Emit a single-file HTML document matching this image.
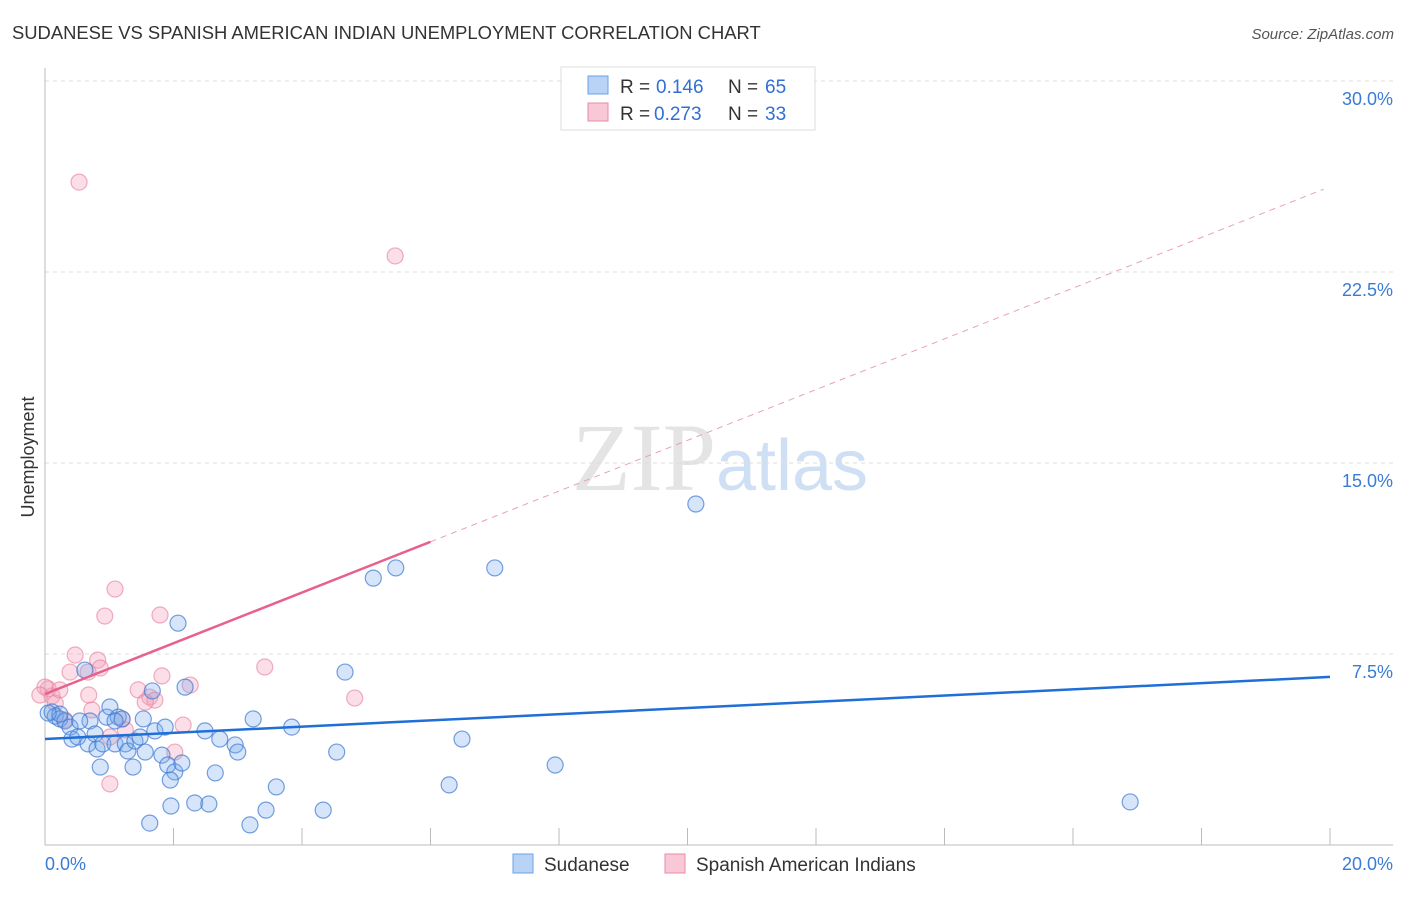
<!DOCTYPE html>
<html><head><meta charset="utf-8"><style>
body{margin:0;background:#fff;font-family:"Liberation Sans",sans-serif}
</style></head><body>
<svg id="chart" width="1406" height="892" xmlns="http://www.w3.org/2000/svg" font-family="Liberation Sans, sans-serif">
<text x="12" y="39" font-size="18.4" fill="#333">SUDANESE VS SPANISH AMERICAN INDIAN UNEMPLOYMENT CORRELATION CHART</text>
<text x="1394" y="39" font-size="15" fill="#555" text-anchor="end" font-style="italic">Source: ZipAtlas.com</text>
<text x="720" y="490" font-size="96" text-anchor="middle" fill="#e4e4e4" font-family="Liberation Serif, serif">ZIP<tspan fill="#cfe0f4" font-family="Liberation Sans, sans-serif" font-size="72">atlas</tspan></text>
<g id="grid"></g>
<g id="axes"></g>
<text transform="translate(34,457) rotate(-90)" font-size="18" fill="#333" text-anchor="middle">Unemployment</text>
<g id="points"></g>
<g id="lines"></g>
<g>
<rect x="561" y="67" width="254" height="63" fill="#fff" stroke="#ddd"/>
<rect x="588" y="76" width="20" height="18" fill="#b8d3f5" stroke="#6aa0e8"/>
<text x="620" y="93" font-size="19" fill="#333">R =</text><text x="656" y="93" font-size="19" fill="#2f6fd6">0.146</text>
<text x="728" y="93" font-size="19" fill="#333">N =</text><text x="765" y="93" font-size="19" fill="#2f6fd6">65</text>
<rect x="588" y="103" width="20" height="18" fill="#f8c8d6" stroke="#e88aa6"/>
<text x="620" y="120" font-size="19" fill="#333">R =</text><text x="654" y="120" font-size="19" fill="#2f6fd6">0.273</text>
<text x="728" y="120" font-size="19" fill="#333">N =</text><text x="765" y="120" font-size="19" fill="#2f6fd6">33</text>
</g>
<g>
<rect x="513" y="854" width="20" height="19" fill="#b8d3f5" stroke="#6aa0e8"/>
<text x="544" y="871" font-size="19" fill="#333">Sudanese</text>
<rect x="665" y="854" width="20" height="19" fill="#f8c8d6" stroke="#e88aa6"/>
<text x="696" y="871" font-size="19" fill="#333">Spanish American Indians</text>
</g>
</svg>
<script>
const yTicks=[7.5,15,22.5,30];
const yTickLabels=["7.5%","15.0%","22.5%","30.0%"];
const xTickLabels=["0.0%","20.0%"];
const blueX=[0.11,0.16,0.23,0.31,0.39,0.42,0.51,0.62,0.67,0.70,0.78,0.81,0.86,0.90,0.96,1.01,1.09,1.14,1.20,1.25,1.29,1.37,1.40,1.48,1.53,1.63,1.67,1.71,1.82,1.87,1.91,1.96,2.02,2.07,2.13,2.18,2.33,2.49,2.55,2.65,2.72,2.96,3.00,3.19,3.24,3.44,3.60,3.84,4.33,4.54,4.67,5.11,5.46,6.29,6.49,7.00,7.94,10.13,16.89,0.23,0.05,1.09,1.95,1.56,0.54];
const blueY=[5.22,5.06,4.95,4.87,4.63,4.16,4.24,6.87,3.97,4.87,4.36,3.77,3.06,3.97,5.02,5.42,3.97,5.02,4.95,3.97,3.69,3.06,4.08,4.24,4.95,0.86,6.05,4.48,3.53,4.63,3.14,1.53,2.87,8.71,3.22,6.20,1.65,4.48,1.61,2.83,4.16,3.93,3.65,0.79,4.95,1.37,2.28,4.63,1.37,3.65,6.79,10.48,10.88,2.36,4.16,10.88,3.14,13.39,1.69,5.14,5.18,4.87,2.55,3.65,4.87];
const pinkX=[0.53,5.45,1.09,0.93,1.79,0.47,0.82,0.86,0.67,3.42,1.82,2.26,1.45,1.63,1.71,0.68,0.73,1.56,4.82,2.15,1.25,1.01,2.02,1.01,0.05,0.11,0.16,0.0,0.31,1.20,0.23,0.39,-0.08];
const pinkY=[26.03,23.13,10.05,8.99,9.03,7.46,7.26,6.95,6.79,6.99,6.64,6.28,6.09,5.81,5.69,5.89,5.30,5.61,5.77,4.71,4.52,4.24,3.65,2.40,6.13,5.85,5.57,6.20,4.91,4.95,6.09,6.79,5.89];
const blueTrend=[4.16,6.60];
const pinkTrend=[5.93,25.85];
const NS="http://www.w3.org/2000/svg";
const X0=45,X1=1330,Y0=845,YS=191/7.5;
function sx(v){return X0+v/20*(X1-X0);}
function sy(v){return Y0-v*YS;}
function mk(t,a,p){const e=document.createElementNS(NS,t);for(const k in a)e.setAttribute(k,a[k]);p.appendChild(e);return e;}
const grid=document.getElementById('grid'),axes=document.getElementById('axes'),pts=document.getElementById('points'),lines=document.getElementById('lines');
yTicks.forEach((v,i)=>{
 const l=mk('line',{x1:45,x2:1393,y1:sy(v),y2:sy(v),stroke:'#ddd','stroke-dasharray':'4,4'},grid);
 
 
 const t=mk('text',{x:1393,y:sy(v)+24,'font-size':18,fill:'#3a7bd5','text-anchor':'end'},axes);
 t.textContent=yTickLabels[i];
 
 
});
const ya=mk('line',{x1:45,x2:45,y1:68,y2:845,stroke:'#bbb'},axes);


const xa=mk('line',{x1:45,x2:1393,y1:845,y2:845,stroke:'#bbb'},axes);


for(let i=1;i<=10;i++){
 const tk=mk('line',{x1:sx(i*2),x2:sx(i*2),y1:828,y2:845,stroke:'#bbb'},axes);
 
 
}
[[45,'start',0],[1393,'end',1]].forEach(([x,a,i])=>{
 const t=mk('text',{x:x,y:870,'font-size':18,fill:'#3a7bd5','text-anchor':a},axes);
 t.textContent=xTickLabels[i];
 
 
});
pinkX.forEach((x,i)=>{
 const c=mk('circle',{cx:sx(x),cy:sy(pinkY[i]),r:8,fill:'rgba(244,160,186,0.35)',stroke:'rgba(232,130,160,0.65)','stroke-width':1.2},pts);
 
 
});
blueX.forEach((x,i)=>{
 const c=mk('circle',{cx:sx(x),cy:sy(blueY[i]),r:8,fill:'rgba(120,170,235,0.3)',stroke:'rgba(60,120,210,0.7)','stroke-width':1.2},pts);
 
 
});
const bl=mk('line',{x1:sx(0),y1:sy(blueTrend[0]),x2:sx(20),y2:sy(blueTrend[1]),stroke:'#1f6fd6','stroke-width':2.5},lines);


const pv=x=>pinkTrend[0]+(pinkTrend[1]-pinkTrend[0])*x/20;
const pl=mk('line',{x1:sx(0),y1:sy(pv(0)),x2:sx(6),y2:sy(pv(6)),stroke:'#e8608f','stroke-width':2.5},lines);


const pd=mk('line',{x1:sx(6),y1:sy(pv(6)),x2:sx(19.9),y2:sy(pv(19.9)),stroke:'#e8a0b8','stroke-width':1,'stroke-dasharray':'6,5'},lines);


</script>
</body></html>
